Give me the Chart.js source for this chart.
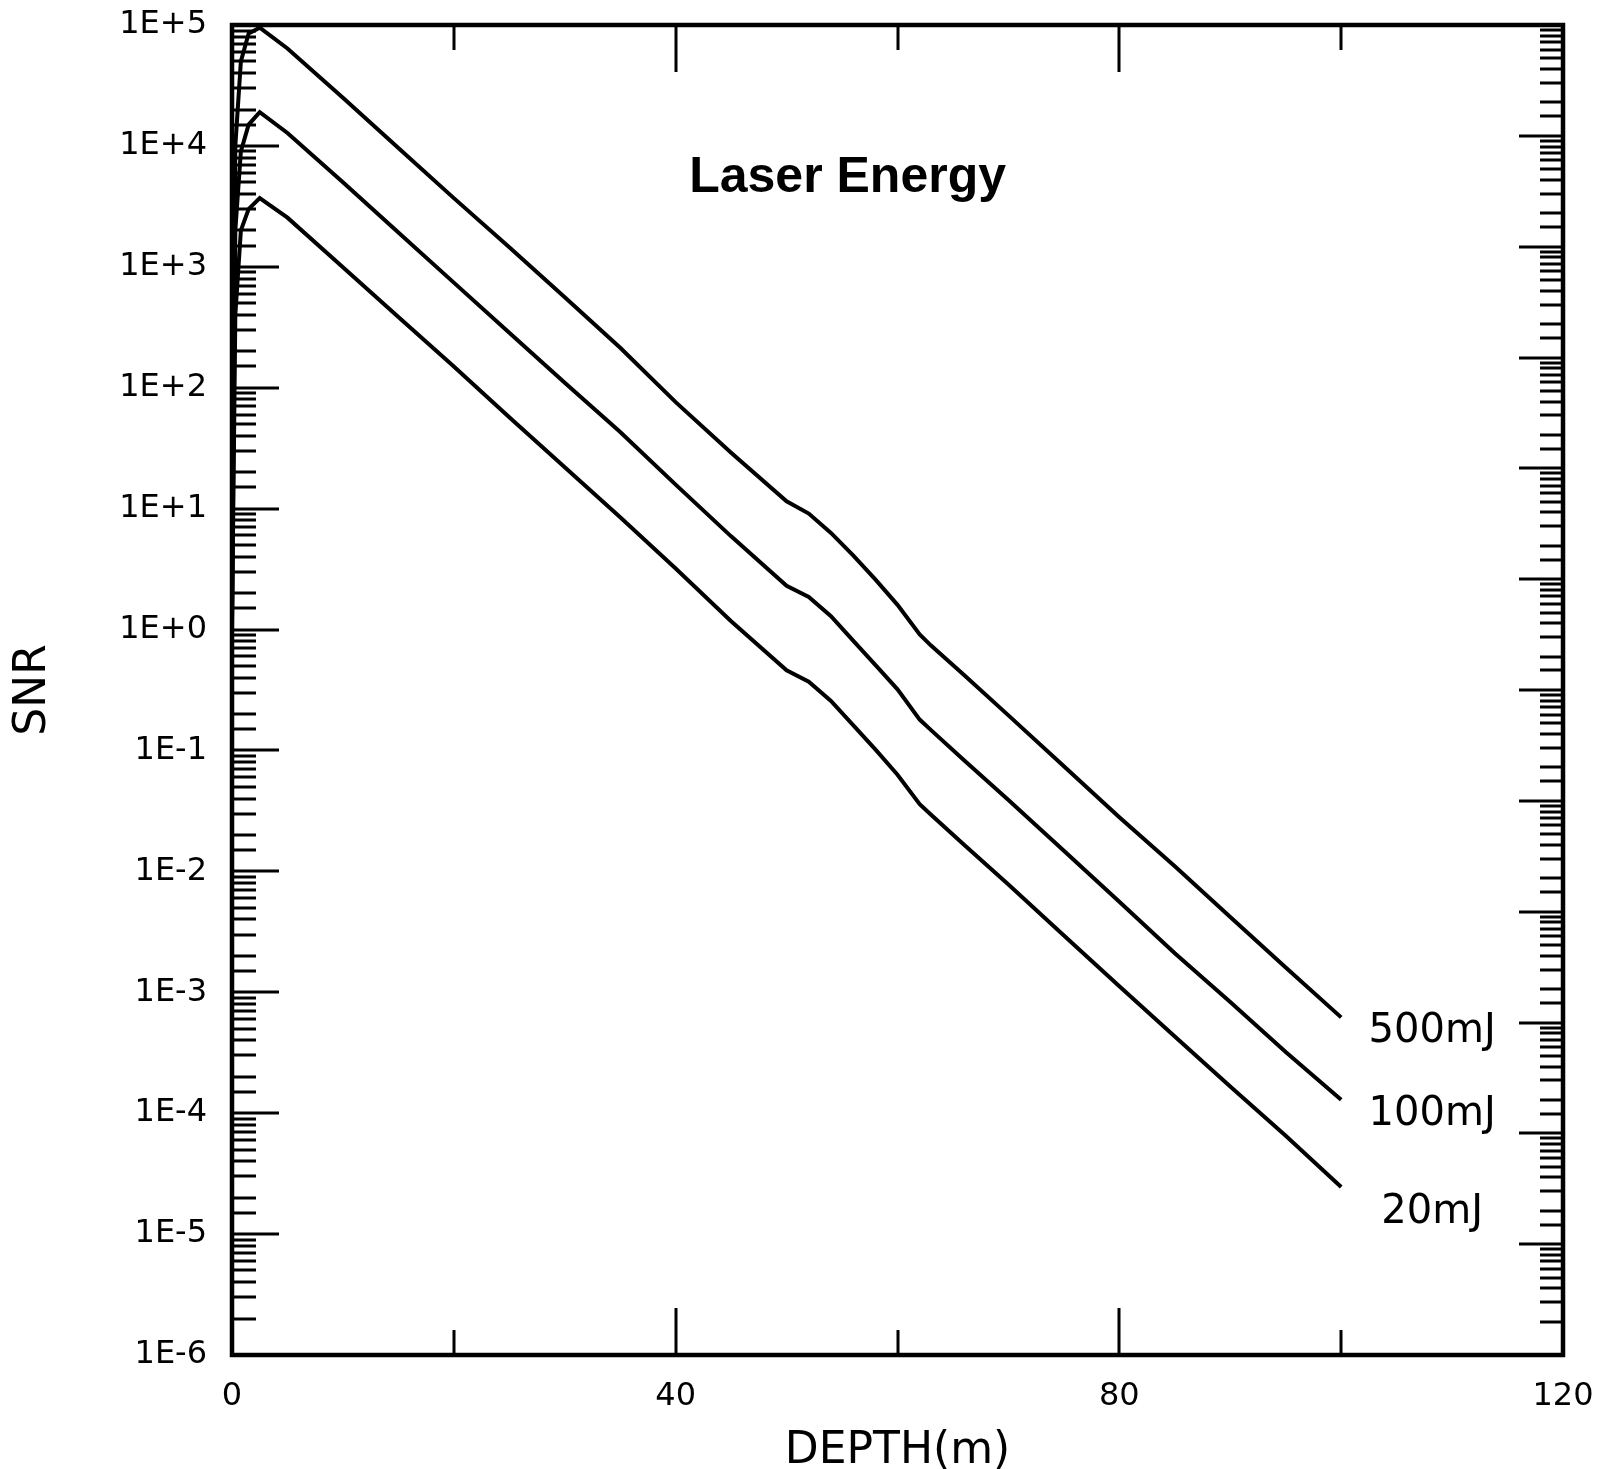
<!DOCTYPE html>
<html>
<head>
<meta charset="utf-8">
<title>SNR vs depth</title>
<script src="https://cdn.jsdelivr.net/npm/chart.js@4.4.1/dist/chart.umd.min.js"></script>
<style>
  html, body { margin: 0; padding: 0; background: #fff; }
  canvas { display: block; }
</style>
</head>
<body>
<canvas id="snr" width="1600" height="1469"></canvas>
<script>
// depth in metres, shared by all three curves
const depth = [0, 0.3, 0.8, 1.5, 2.5, 5, 10, 15, 20, 25, 30, 35, 40, 45, 50, 52, 54, 56, 58, 60, 62, 63, 66, 70, 75, 80, 85, 90, 95, 100];

// signal to noise ratio for each laser energy
const snr500 = [1.4, 1.0e4, 5.0e4, 8.5e4, 9.5e4, 6.4e4, 2.5e4, 9.6e3, 3.7e3, 1.45e3, 560, 214, 76, 29, 11.5, 9.1, 6.3, 4.1, 2.6, 1.6, 0.91, 0.74, 0.42, 0.195, 0.074, 0.028, 0.011, 4.2e-3, 1.6e-3, 6.2e-4];
const snr100 = [1.2, 2.0e3, 9.0e3, 1.5e4, 1.9e4, 1.28e4, 5.0e3, 1.92e3, 740, 285, 110, 43, 15.8, 5.9, 2.3, 1.86, 1.29, 0.81, 0.51, 0.32, 0.18, 0.148, 0.083, 0.039, 0.0148, 5.6e-3, 2.1e-3, 8.3e-4, 3.2e-4, 1.29e-4];
const snr20 = [1.0, 400, 2.0e3, 3.0e3, 3.7e3, 2.55e3, 990, 385, 150, 57, 22, 8.5, 3.2, 1.17, 0.46, 0.37, 0.257, 0.162, 0.102, 0.063, 0.036, 0.0295, 0.0166, 7.8e-3, 2.95e-3, 1.12e-3, 4.3e-4, 1.66e-4, 6.5e-5, 2.45e-5];

const energyLabels = ["500mJ", "100mJ", "20mJ"];

// axis ticks
const depthLabelled = [0, 40, 80, 120];
const snrTickLabels = ["1E-6", "1E-5", "1E-4", "1E-3", "1E-2", "1E-1", "1E+0", "1E+1", "1E+2", "1E+3", "1E+4", "1E+5"];

function isDecade(v) {
  const e = Math.log10(v);
  return Math.abs(e - Math.round(e)) < 1e-6;
}

function points(ys) {
  return depth.map((d, i) => ({ x: d, y: ys[i] }));
}

// frame, inward ticks and the text inside the plot
const frameTicks = {
  id: "frameTicks",
  afterDatasetsDraw(chart) {
    const { ctx, chartArea: a, scales } = chart;
    ctx.save();
    ctx.strokeStyle = "#000";
    ctx.lineWidth = 3;
    ctx.beginPath();
    scales.x.ticks.forEach((t) => {
      const px = Math.round(scales.x.getPixelForValue(t.value));
      const len = depthLabelled.includes(t.value) ? 47 : 25;
      ctx.moveTo(px, a.top);
      ctx.lineTo(px, a.top + len);
      ctx.moveTo(px, a.bottom);
      ctx.lineTo(px, a.bottom - len);
    });
    scales.y.ticks.forEach((t) => {
      const py = Math.round(scales.y.getPixelForValue(t.value));
      const len = isDecade(t.value) ? 47 : 24;
      ctx.moveTo(a.left, py);
      ctx.lineTo(a.left + len, py);
    });
    scales.y2.ticks.forEach((t) => {
      const py = Math.round(scales.y2.getPixelForValue(t.value));
      const len = isDecade(t.value) ? 44 : 23;
      ctx.moveTo(a.right, py);
      ctx.lineTo(a.right - len, py);
    });
    ctx.stroke();

    ctx.lineWidth = 4.5;
    ctx.strokeRect(a.left, a.top, a.right - a.left, a.bottom - a.top);

    ctx.fillStyle = "#000";
    ctx.textAlign = "center";
    ctx.textBaseline = "middle";
    ctx.font = "bold 50px 'Liberation Sans'";
    ctx.fillText("Laser Energy", scales.x.getPixelForValue(55.5), scales.y.getPixelForValue(5370));

    const tags = [
      { text: energyLabels[0], x: 108.2, y: 4.7e-4 },
      { text: energyLabels[1], x: 108.2, y: 9.8e-5 },
      { text: energyLabels[2], x: 108.2, y: 1.5e-5 },
    ];
    ctx.font = "40px 'DejaVu Sans'";
    tags.forEach((t) => {
      ctx.fillText(t.text, scales.x.getPixelForValue(t.x), scales.y.getPixelForValue(t.y));
    });
    ctx.restore();
  },
};

Chart.defaults.font.family = "'DejaVu Sans'";
Chart.defaults.color = "#000";

const line = (label, ys) => ({
  label: label,
  data: points(ys),
  borderColor: "#000",
  borderWidth: 4,
  pointRadius: 0,
  fill: false,
  tension: 0,
});

// fixed axis sizes; tick labels may run past the frame edges
function fixBox(w, h) {
  return (s) => {
    if (w !== null) s.width = w;
    if (h !== null) s.height = h;
    s.paddingLeft = s.paddingRight = s.paddingTop = s.paddingBottom = 0;
  };
}

let snrChart = new Chart(document.getElementById("snr").getContext("2d"), {
  type: "line",
  data: {
    datasets: [
      line(energyLabels[0], snr500),
      line(energyLabels[1], snr100),
      line(energyLabels[2], snr20),
    ],
  },
  plugins: [frameTicks],
  options: {
    responsive: false,
    animation: false,
    events: [],
    layout: { padding: { top: 25, right: 37, bottom: 0, left: 0 } },
    plugins: { legend: { display: false }, tooltip: { enabled: false } },
    scales: {
      x: {
        type: "linear",
        min: 0,
        max: 120,
        grid: { display: false },
        border: { display: false },
        ticks: {
          stepSize: 20,
          autoSkip: false,
          maxRotation: 0,
          padding: 14,
          font: { size: 32 },
          callback: (v) => (depthLabelled.includes(v) ? String(v) : ""),
        },
        title: { display: true, text: "DEPTH(m)", font: { size: 44, lineHeight: 0.8 }, padding: { top: 0, bottom: 0 } },
        afterFit: fixBox(null, 114),
      },
      y: {
        type: "logarithmic",
        min: 1e-6,
        max: 1e5,
        grid: { display: false },
        border: { display: false },
        ticks: {
          autoSkip: false,
          padding: 17,
          font: { size: 32 },
          callback: (v) => (isDecade(v) ? snrTickLabels[Math.round(Math.log10(v)) + 6] : ""),
        },
        title: { display: true, text: "SNR", font: { size: 44, lineHeight: 0.8 }, padding: { top: 16, bottom: 0 } },
        afterFit: fixBox(232, null),
      },
      // unlabelled scale behind the right-hand tick marks
      y2: {
        type: "logarithmic",
        position: "right",
        min: 1e-7,
        max: 1e5,
        display: false,
        ticks: { autoSkip: false },
        afterFit: fixBox(0, null),
      },
    },
  },
});
</script>
</body>
</html>
